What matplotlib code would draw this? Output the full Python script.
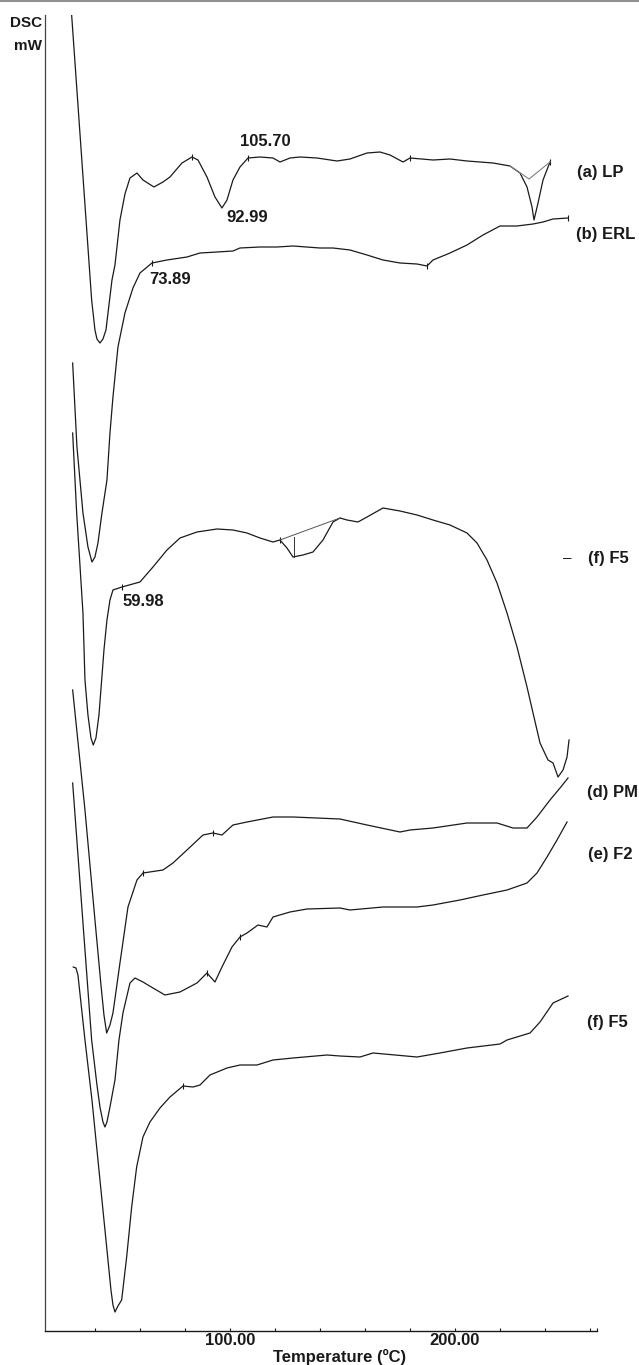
import numpy as np
import matplotlib
matplotlib.use("Agg")
import matplotlib.pyplot as plt
from matplotlib.lines import Line2D

plt.rcParams['font.family'] = ['Liberation Sans', 'DejaVu Sans']

# DSC traces, temperature (C) and heat flow (mW, stacked offsets)
t_lp = [29.64, 38.53, 40.0, 40.89, 42.22, 43.56, 44.89, 46.22, 47.56, 48.89, 51.11, 53.33, 55.56,
        58.67, 61.33, 66.22, 70.22, 73.33, 78.67, 83.11, 85.78, 89.78, 93.33, 96.44, 98.67, 101.33,
        104.44, 108.0, 113.33, 119.11, 122.22, 126.67, 131.11, 138.67, 147.56, 153.33, 160.89,
        166.67, 171.11, 176.89, 180.0, 190.22, 197.78, 205.33, 216.89, 224.44, 228.89, 232.0,
        234.22, 235.11, 236.89, 239.11, 242.22]
q_lp = [131.6, 103.1, 100.1, 99.2, 98.8, 99.2, 100.1, 102.6, 105.1, 106.6, 111.1, 113.7, 115.3,
        115.8, 115.1, 114.4, 114.9, 115.4, 116.8, 117.4, 117.1, 115.4, 113.4, 112.3, 113.1, 115.1,
        116.4, 117.3, 117.4, 117.3, 116.9, 117.3, 117.4, 117.3, 117.0, 117.2, 117.8,
        117.9, 117.6, 116.9, 117.3, 117.1, 117.2, 117.0, 116.8, 116.5, 115.8, 114.4,
        112.4, 111.1, 112.8, 115.1, 116.9]

t_erl = [30.09, 32.0, 34.67, 36.89, 38.67, 40.0, 41.33, 43.11, 45.33, 46.67, 48.0, 50.22, 53.33,
         56.89, 60.0, 65.33, 72.0, 80.89, 86.67, 94.22, 101.33, 104.44, 113.33, 120.89, 128.0,
         140.0, 145.78, 153.33, 160.89, 168.0, 175.56, 183.11, 187.56, 190.22, 197.78, 205.33,
         212.44, 220.0, 227.56, 234.67, 239.11, 243.56, 250.22]
q_erl = [96.8, 88.4, 81.8, 78.4, 76.9, 77.4, 78.8, 81.8, 85.1, 89.8, 93.4, 98.4, 101.8,
         104.3, 105.8, 106.8, 107.1, 107.4, 107.8, 107.9, 108.0, 108.3, 108.4, 108.4, 108.5,
         108.3, 108.3, 108.1, 107.6, 107.1, 106.8, 106.7, 106.5, 107.1, 107.8, 108.6,
         109.6, 110.5, 110.5, 110.7, 110.9, 111.2, 111.3]

t_c = [30.09, 31.87, 34.67, 35.56, 36.89, 38.22, 39.24, 40.44, 41.78, 42.98, 44.0, 45.33, 46.67,
       48.0, 52.0, 60.0, 65.78, 72.0, 77.78, 85.33, 94.22, 101.33, 107.56, 113.33, 119.11, 122.22,
       125.33, 128.0, 132.44, 136.89, 141.33, 145.78, 148.89, 152.0, 156.89, 160.89, 168.0,
       175.56, 183.11, 190.22, 197.78, 205.33, 209.78, 214.22, 218.67, 223.11, 227.56, 232.0,
       234.67, 237.78, 241.33, 243.56, 245.78, 248.0, 249.78, 250.67]
q_c = [89.8, 81.8, 71.8, 65.1, 61.6, 59.3, 58.6, 59.3, 61.6, 65.1, 68.1, 71.1, 73.1,
       74.1, 74.4, 74.9, 76.4, 78.1, 79.3, 79.9, 80.2, 80.1, 79.8, 79.3, 78.9, 79.1,
       78.3, 77.4, 77.6, 77.9, 79.1, 80.9, 81.3, 81.1, 80.9, 81.4, 82.3,
       82.0, 81.6, 81.1, 80.6, 79.8, 78.8, 77.1, 74.8, 71.8, 68.4, 64.4,
       61.8, 58.8, 57.1, 56.8, 55.4, 56.1, 57.4, 59.1]

t_pm = [30.09, 35.56, 40.0, 42.67, 44.0, 45.2, 46.67, 48.0, 51.11, 54.67, 58.67, 61.33, 70.22,
        74.67, 80.89, 88.0, 92.44, 96.44, 101.33, 107.56, 119.11, 128.0, 148.89, 160.89, 175.56,
        180.0, 190.22, 205.33, 218.67, 225.78, 232.0, 236.44, 242.22, 246.67, 250.22]
q_pm = [64.1, 52.1, 41.1, 34.6, 31.6, 29.8, 30.6, 31.8, 36.8, 42.4, 45.1, 45.8, 46.1,
        46.8, 48.1, 49.6, 49.8, 49.6, 50.6, 50.9, 51.4, 51.4, 51.2, 50.6, 49.9,
        50.1, 50.3, 50.8, 50.8, 50.3, 50.3, 51.4, 53.1, 54.3, 55.3]

t_f2 = [30.09, 35.56, 38.53, 40.89, 42.22, 43.56, 44.44, 45.33, 46.67, 48.89, 50.67, 52.44, 55.56,
        57.78, 61.33, 65.78, 71.11, 77.78, 85.33, 89.78, 93.33, 96.44, 100.89, 104.44, 107.56,
        112.44, 116.44, 119.11, 126.67, 134.22, 148.89, 153.33, 168.0, 183.11, 190.22, 202.22,
        212.44, 223.11, 232.0, 236.44, 240.89, 245.33, 249.78]
q_f2 = [54.8, 38.1, 29.1, 24.6, 22.4, 20.9, 20.4, 20.9, 22.4, 25.1, 29.1, 31.8, 34.8,
        35.3, 34.9, 34.3, 33.6, 33.9, 34.8, 35.8, 34.9, 36.4, 38.4, 39.4, 39.8,
        40.6, 40.4, 41.4, 41.9, 42.2, 42.3, 42.1, 42.4, 42.4, 42.6, 43.1,
        43.6, 44.1, 44.8, 45.8, 47.4, 49.1, 50.9]

t_f5 = [30.36, 31.56, 32.44, 35.56, 38.67, 42.22, 45.78, 47.11, 48.0, 48.89, 50.22, 51.87, 54.09,
        56.31, 58.53, 61.33, 64.44, 68.89, 73.33, 79.11, 83.56, 86.67, 91.11, 98.67, 104.44,
        112.0, 119.11, 128.0, 143.11, 148.89, 157.78, 163.56, 183.11, 193.33, 205.33, 220.0,
        223.11, 233.33, 237.78, 243.56, 250.22]
q_f5 = [36.4, 36.3, 35.6, 29.1, 23.1, 15.1, 7.1, 4.1, 2.6, 1.9, 2.5, 3.1, 7.4,
        12.4, 16.4, 19.4, 20.9, 22.3, 23.4, 24.5, 24.4, 24.6, 25.6, 26.3, 26.6,
        26.6, 27.1, 27.3, 27.6, 27.5, 27.4, 27.8, 27.4, 27.8, 28.3, 28.7,
        29.1, 29.8, 30.9, 32.8, 33.5]

# peak integration baselines drawn by the instrument software
t_base_lp = [224.44, 232.89, 242.22]
q_base_lp = [116.5, 115.2, 116.9]
t_base_c = [122.22, 148.89]
q_base_c = [79.1, 81.3]
t_drop_c = [128.44, 128.44]
q_drop_c = [79.4, 77.4]

# onset / peak markers (temperatures)
marks_lp = [83.11, 108.0, 180.0, 242.22]
marks_erl = [65.33, 187.56, 250.22]
marks_c = [52.0, 122.22]
marks_pm = [61.33, 92.44]
marks_f2 = [89.78, 104.44]
marks_f5 = [79.11]

traces = [
    (t_lp, q_lp, marks_lp, "(a) LP", 254.2, 115.9),
    (t_erl, q_erl, marks_erl, "(b) ERL", 253.8, 109.6),
    (t_c, q_c, marks_c, "(f) F5", 259.1, 77.3),
    (t_pm, q_pm, marks_pm, "(d) PM", 258.7, 53.9),
    (t_f2, q_f2, marks_f2, "(e) F2", 259.1, 47.7),
    (t_f5, q_f5, marks_f5, "(f) F5", 258.7, 30.9),
]

peak_labels = ["105.70", "92.99", "73.89", "59.98"]
peak_t = [115.56, 107.56, 73.33, 61.56]
peak_q = [118.9, 111.3, 105.1, 72.9]

ink = "#1a1a1a"

fig = plt.figure(figsize=(6.39, 13.65), dpi=100)
ax = fig.add_axes([45 / 639, 34 / 1365, 552 / 639, 1316 / 1365])

for t, q, marks, name, lx, ly in traces:
    ax.plot(t, q, color=ink, lw=0.9, solid_joinstyle="round")
    ax.plot(marks, np.interp(marks, t, q), ls="none", marker="|", ms=4,
            mew=0.8, color=ink)
    ax.text(lx, ly, name, fontsize=12, fontweight="bold", color=ink,
            ha="left", va="center", clip_on=False)

ax.text(250.0, 77.3, "–", fontsize=11, color=ink, ha="center", va="center", clip_on=False)

ax.plot(t_base_lp, q_base_lp, color="#808080", lw=0.8)
ax.plot(t_base_c, q_base_c, color="#555555", lw=0.7)
ax.plot(t_drop_c, q_drop_c, color="#333333", lw=0.7)

for lab, x, y in zip(peak_labels, peak_t, peak_q):
    ax.text(x, y, lab, fontsize=12, fontweight="bold", color=ink, ha="center", va="center")

ax.set_xlim(17.8, 263.1)
ax.set_ylim(0, 131.6)

for side in ["top", "right"]:
    ax.spines[side].set_visible(False)
ax.spines["left"].set_color("#444444")
ax.spines["bottom"].set_color(ink)
ax.spines["left"].set_linewidth(0.9)
ax.spines["bottom"].set_linewidth(1.0)

ticks = list(range(40, 261, 20)) + [263.1]
ax.set_xticks(ticks)
ax.set_xticklabels(["100.00" if v == 100 else "200.00" if v == 200 else "" for v in ticks],
                   fontsize=12, fontweight="bold", color=ink)
ax.tick_params(axis="x", direction="in", length=2.5, width=0.8, pad=1.5, colors=ink)
ax.set_yticks([])

ax.set_xlabel("Temperature (ºC)", fontsize=12, fontweight="bold", color=ink)
ax.xaxis.set_label_coords((340 - 45) / 552, -26 / 1316)
ax.xaxis.label.set_va("center")

fig.text(42 / 639, 1 - 23 / 1365, "DSC", fontsize=11, fontweight="bold", color=ink,
         ha="right", va="center")
fig.text(42 / 639, 1 - 46 / 1365, "mW", fontsize=11, fontweight="bold", color=ink,
         ha="right", va="center")

fig.add_artist(Line2D([0, 1], [1 - 0.8 / 1365, 1 - 0.8 / 1365], color="#909090", lw=1.5))

fig.savefig("out.png", dpi=100)
